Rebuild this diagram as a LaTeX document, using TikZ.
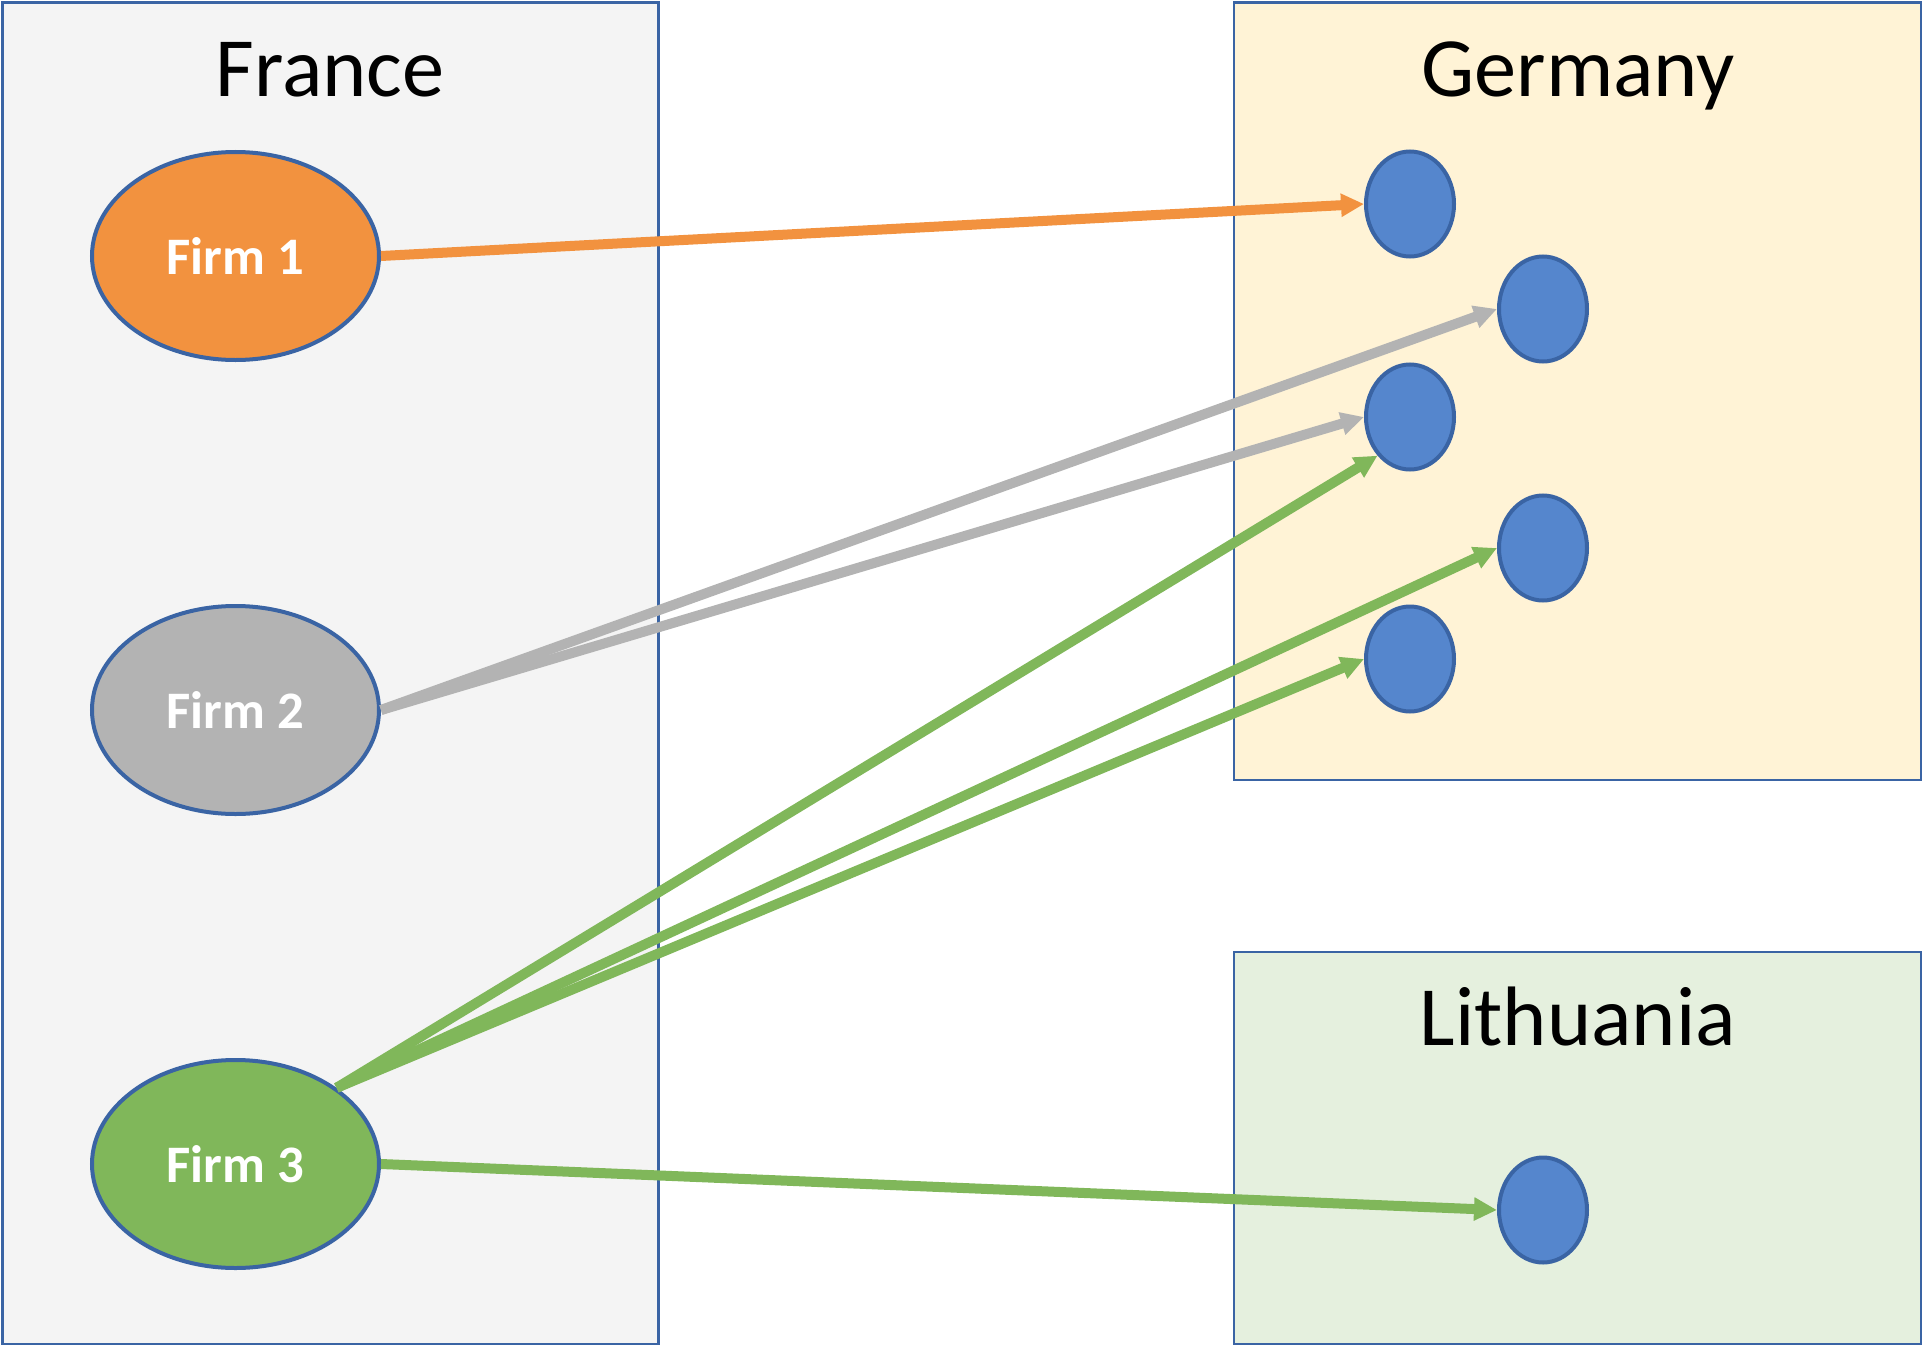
\documentclass[tikz,border=0pt]{standalone}
\usepackage{fontspec}
\setmainfont{Carlito}
\usetikzlibrary{positioning,arrows.meta,shapes.geometric}
\usepackage{xcolor}

\definecolor{edge}{HTML}{3A64A4}
\definecolor{frfill}{HTML}{F4F4F4}
\definecolor{defill}{HTML}{FFF3D6}
\definecolor{ltfill}{HTML}{E5F0DE}
\definecolor{firmorange}{HTML}{F2923F}
\definecolor{firmgray}{HTML}{B3B3B3}
\definecolor{firmgreen}{HTML}{80B75A}
\definecolor{subblue}{HTML}{5586CD}

\begin{document}
\begin{tikzpicture}[x=0.2mm,y=-0.2mm,>=Triangle]
\tikzset{
  country/.style={draw=edge,line width=0.5mm,inner sep=0pt},
  title/.style={anchor=base,inner sep=0pt,font=\fontsize{48}{56}\selectfont},
  firm/.style={ellipse,draw=edge,line width=0.8mm,minimum width=57.4mm,minimum height=41.6mm,inner sep=0pt,text=white,font=\fontsize{30}{34}\selectfont\bfseries},
  sub/.style={ellipse,draw=edge,fill=subblue,line width=0.8mm,minimum width=17.6mm,minimum height=21mm,inner sep=0pt},
  link/.style={-{Triangle[length=4.6mm,width=4.4mm]},line width=2mm}
}
\useasboundingbox (0,0) rectangle (1923,1347);

% countries
\node[country,fill=frfill,minimum width=131.2mm,minimum height=268.3mm] (france) at (330.5,673.3) {};
\node[country,fill=defill,minimum width=137.4mm,minimum height=155.5mm] (germany) at (1577.5,391.3) {};
\node[country,fill=ltfill,minimum width=137.4mm,minimum height=78.4mm] (lithuania) at (1577.5,1148) {};
\node[title] (frT) at (330,97) {France};
\node[title] (deT) at (1578,97) {Germany};
\node[title] (ltT) at (1578,1045) {Lithuania};

% firms
\node[firm,fill=firmorange] (f1) at (235.5,256) {Firm 1};
\node[firm,fill=firmgray] (f2) at (235.5,710) {Firm 2};
\node[firm,fill=firmgreen] (f3) at (235.5,1164) {Firm 3};

% subsidiaries
\node[sub] (g1) at (1410,204) {};
\node[sub] (g2) at (1543,309) {};
\node[sub] (g3) at (1410,417) {};
\node[sub] (g4) at (1543,548) {};
\node[sub] (g5) at (1410,659) {};
\node[sub] (l1) at (1543,1210) {};

% links
\draw[link,firmorange] (f1.east) -- (g1.west);
\draw[link,firmgray] (f2.east) -- (g2.west);
\draw[link,firmgray] (f2.east) -- (g3.west);
\draw[link,firmgreen] (f3.37) -- (g3.230);
\draw[link,firmgreen] (f3.37) -- (g4.west);
\draw[link,firmgreen] (f3.37) -- (g5.west);
\draw[link,firmgreen] (f3.east) -- (l1.west);
\end{tikzpicture}
\end{document}
